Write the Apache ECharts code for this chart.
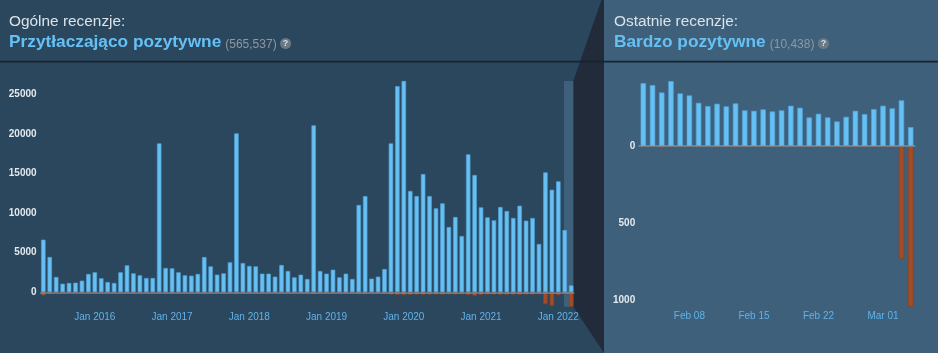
<!DOCTYPE html>
<html>
<head>
<meta charset="utf-8">
<script src="https://cdn.jsdelivr.net/npm/echarts@6/dist/echarts.min.js"></script>
<style>
html,body{margin:0;padding:0;background:#2a475e;overflow:hidden;}
#c{width:938px;height:353px;}
</style>
</head>
<body>
<div id="c"></div>
<script>
// ---------- DATA ----------
const MONTH_NAMES = ['Jan','Feb','Mar','Apr','May','Jun','Jul','Aug','Sep','Oct','Nov','Dec'];
// Overall (monthly) categories: May 2015 .. Mar 2022
const overallCategories = [];
(function () {
  let y = 2015, m = 4;
  while (!(y === 2022 && m === 3)) {
    overallCategories.push(MONTH_NAMES[m] + ' ' + y);
    m++; if (m === 12) { m = 0; y++; }
  }
})();
const overallTickLabels = ['Jan 2016','Jan 2017','Jan 2018','Jan 2019','Jan 2020','Jan 2021','Jan 2022'];
const overallPositive = [
  6650,4460,1940,1090,1180,1220,1470,2320,
  2530,1770,1300,1180,2530,3410,2400,2150,1810,1810,18810,3070,
  3030,2530,2150,2100,2320,4460,3280,2230,2400,3790,20080,3700,
  3330,3280,2360,2360,1980,3450,2690,1890,2230,1680,21090,2690,
  2360,2860,1890,2360,1680,11030,12160,1730,1980,2950,18810,26050,
  26690,12800,12160,14940,12160,10610,11240,8250,9510,7110,17430,14820,
  10730,9470,9090,10780,10270,9390,10940,9050,9390,6100,15150,12960,
  14020,7870,880
];
const overallNegative = [
  430,180,110,90,90,90,100,120,
  130,110,90,90,120,140,110,100,100,100,180,130,
  140,120,110,110,120,160,140,120,120,150,200,160,
  150,150,130,130,120,160,140,120,130,120,230,150,
  150,160,130,150,130,220,240,130,140,170,280,330,
  380,330,300,320,300,280,300,260,280,250,350,470,
  330,290,290,320,300,290,320,280,300,240,1500,1700,
  380,250,1820
];
const overallYTicks = [0,5000,10000,15000,20000,25000];

// Recent (daily) categories: Feb 03 .. Mar 04 (2022)
const recentCategories = [
  'Feb 03','Feb 04','Feb 05','Feb 06','Feb 07','Feb 08','Feb 09','Feb 10','Feb 11','Feb 12',
  'Feb 13','Feb 14','Feb 15','Feb 16','Feb 17','Feb 18','Feb 19','Feb 20','Feb 21','Feb 22',
  'Feb 23','Feb 24','Feb 25','Feb 26','Feb 27','Feb 28','Mar 01','Mar 02','Mar 03','Mar 04'
];
const recentTickLabels = ['Feb 08','Feb 15','Feb 22','Mar 01'];
const recentPositive = [409,396,348,422,342,329,281,260,275,258,277,232,229,238,225,232,262,249,186,210,186,160,190,229,208,240,262,245,297,123];
const recentNegative = [12,10,16,12,6,12,5,4,14,12,16,8,6,8,5,8,4,12,14,8,10,6,4,12,14,10,12,14,734,1043];
const recentYTicks = [0,500,1000];

const overallTitle = 'Ogólne recenzje:';
const overallRating = 'Przytłaczająco pozytywne';
const overallCount = '(565,537)';
const recentTitle = 'Ostatnie recenzje:';
const recentRating = 'Bardzo pozytywne';
const recentCount = '(10,438)';

// ---------- STYLE ----------
const FONT = '"Liberation Sans", Arial, sans-serif';
const BG_LEFT = '#2a475e';
const BG_RIGHT = '#3e607b';
const WEDGE = '#212b3a';
const BLUE = '#66c0f4';
const RED = '#a34c25';
const XLABEL = '#5fb3ea';
const YLABEL = '#e4eaee';

const chart = echarts.init(document.getElementById('c'), null, {renderer: 'canvas', width: 938, height: 353});

function barSeries(xi, data, color, border, width, withZero) {
  const s = {
    type: 'bar', xAxisIndex: xi, yAxisIndex: xi, stack: 'st' + xi,
    data: data, barWidth: width, z: 3,
    itemStyle: {color: color, borderColor: border, borderWidth: 0.8},
    emphasis: {disabled: true}, silent: true
  };
  if (withZero) {
    s.markLine = {
      silent: true, symbol: ['none', 'none'], label: {show: false},
      lineStyle: {color: 'rgba(150,190,220,0.4)', width: 2, type: 'solid'},
      emphasis: {disabled: true},
      data: [{yAxis: 0}]
    };
  }
  return s;
}

const option = {
  backgroundColor: BG_LEFT,
  animation: false,
  grid: [
    {left: 40.1, top: 78.5, width: 534.3, height: 229.6},
    {left: 638.7, top: 69, width: 276.6, height: 238.7}
  ],
  xAxis: [
    {type: 'category', gridIndex: 0, data: overallCategories, z: 5,
     axisLine: {show: false}, axisTick: {show: false}, splitLine: {show: false},
     axisLabel: {interval: (i, v) => overallTickLabels.includes(v), margin: 4, color: XLABEL, fontSize: 10, fontFamily: FONT}},
    {type: 'category', gridIndex: 1, data: recentCategories, z: 5,
     axisLine: {show: false}, axisTick: {show: false}, splitLine: {show: false},
     axisLabel: {interval: (i, v) => recentTickLabels.includes(v), margin: 4, color: XLABEL, fontSize: 10, fontFamily: FONT}}
  ],
  yAxis: [
    {type: 'value', gridIndex: 0, min: -2000, max: 27000, interval: 1000, z: 5,
     axisLine: {show: false}, axisTick: {show: false}, splitLine: {show: false},
     axisLabel: {formatter: v => overallYTicks.includes(v) ? String(v) : '', margin: 3.5, color: YLABEL, fontSize: 10, fontWeight: 'bold', fontFamily: FONT}},
    {type: 'value', gridIndex: 1, min: -1050, max: 500, interval: 50, z: 5,
     axisLine: {show: false}, axisTick: {show: false}, splitLine: {show: false},
     axisLabel: {formatter: v => (v <= 0 && recentYTicks.includes(Math.abs(v))) ? String(Math.abs(v)) : '', margin: 3.5, color: YLABEL, fontSize: 10, fontWeight: 'bold', fontFamily: FONT}}
  ],
  series: [
    barSeries(0, overallPositive, BLUE, 'rgba(80,160,210,0.85)', 4.6, true),
    barSeries(0, overallNegative.map(v => -v), RED, 'rgba(140,65,32,0.85)', 4.6, false),
    barSeries(1, recentPositive, BLUE, 'rgba(80,160,210,0.85)', 5.6, true),
    barSeries(1, recentNegative.map(v => -v), RED, 'rgba(140,65,32,0.85)', 5.6, false)
  ]
};
chart.setOption(option);

// ---------- DECORATION (computed from the axes) ----------
const ctx = document.createElement('canvas').getContext('2d');
function tw(text, font) { ctx.font = font; return ctx.measureText(text).width; }

const last = overallCategories.length - 1;
const pTop = chart.convertToPixel({gridIndex: 0}, [last, Math.max(...overallPositive)]);
const pBot = chart.convertToPixel({gridIndex: 0}, [last, -Math.max(...overallNegative)]);
const hx0 = pTop[0] - 7.2, hx1 = pTop[0] + 2.1;
const PANEL_X = 603.5;

function header(x, title, rating, count) {
  const fT = '15.4px ' + FONT, fR = 'bold 17.3px ' + FONT, fC = '12px ' + FONT;
  const wR = tw(rating, fR), wC = tw(count, fC);
  const cx = x + wR + 4;
  const qx = cx + wC + 9;
  return [
    {type: 'text', z: 20, style: {x: x, y: 21.7, text: title, font: fT, fill: '#dce3e8', textVerticalAlign: 'middle', verticalAlign: 'middle'}},
    {type: 'text', z: 20, style: {x: x, y: 42.6, text: rating, font: fR, fill: BLUE, textVerticalAlign: 'middle', verticalAlign: 'middle'}},
    {type: 'text', z: 20, style: {x: cx, y: 44.3, text: count, font: fC, fill: '#8f98a0', textVerticalAlign: 'middle', verticalAlign: 'middle'}},
    {type: 'circle', z: 20, shape: {cx: qx, cy: 43.5, r: 5.5}, style: {fill: '#6b7986'}},
    {type: 'text', z: 21, style: {x: qx, y: 43.7, text: '?', font: 'bold 9px ' + FONT, fill: '#d8dee3', textAlign: 'center', textVerticalAlign: 'middle', verticalAlign: 'middle'}}
  ];
}

chart.setOption({
  graphic: [
    {type: 'rect', z: -10, silent: true, shape: {x: PANEL_X, y: 0, width: 938 - PANEL_X, height: 353}, style: {fill: BG_RIGHT}},
    {type: 'rect', z: 1, silent: true, shape: {x: hx0, y: pTop[1], width: hx1 - hx0, height: pBot[1] - pTop[1]}, style: {fill: BG_RIGHT}},
    {type: 'polygon', z: -5, silent: true,
     shape: {points: [[hx1, pTop[1]], [601.5, 0], [PANEL_X + 0.5, 0], [PANEL_X + 0.5, 353], [hx1, pBot[1]]]},
     style: {fill: WEDGE}},
    {type: 'rect', z: 10, silent: true, shape: {x: 0, y: 60.8, width: 938, height: 1.6}, style: {fill: '#19232f'}},
    ...header(9, overallTitle, overallRating, overallCount),
    ...header(614, recentTitle, recentRating, recentCount)
  ]
});
</script>
</body>
</html>
